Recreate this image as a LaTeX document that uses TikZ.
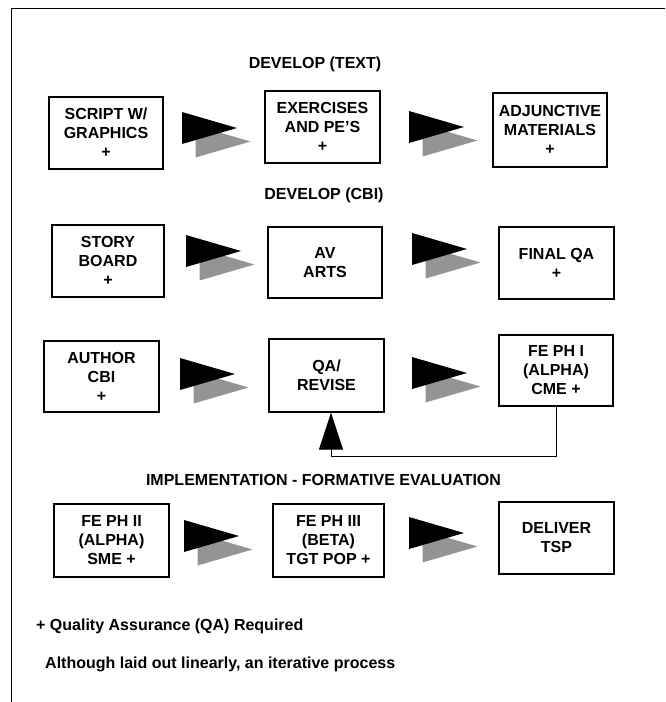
\documentclass[tikz,border=0pt]{standalone}
\usepackage{fontspec}
\setmainfont{Liberation Sans}
\usetikzlibrary{arrows.meta}
\newcommand\flowtri[2]{%
  \fill[black!42] ({#1+13.5},{#2+13.5}) -- ++(55,16) -- ++(-55,16) -- cycle;
  \fill[black] (#1,#2) -- ++(55,16) -- ++(-55,16) -- cycle;
}
\begin{document}
\begin{tikzpicture}[x=1pt,y=-1pt,
  box/.style={draw=black,line width=1.3pt,align=center,inner sep=0pt,
    font=\bfseries\fontsize{16}{19}\selectfont},
  ttl/.style={font=\bfseries\fontsize{16}{19}\selectfont,anchor=base,inner sep=0pt},
  note/.style={font=\bfseries\fontsize{16}{19}\selectfont,anchor=base west,inner sep=0pt},
  fb/.style={line width=1pt,-{Triangle[width=24pt,length=37pt]}}
]
\useasboundingbox (0,0) rectangle (665,702);
\fill[white] (0,0) rectangle (665,702);
% frame (top and left only)
\draw[line width=1pt] (665,8.5) -- (11,8.5) -- (11,702);

% titles
\node[ttl] (t1) at (315,68) {DEVELOP (TEXT)};
\node[ttl] (t2) at (324,199) {DEVELOP (CBI)};
\node[ttl] (t3) at (323.5,485) {IMPLEMENTATION - FORMATIVE EVALUATION};

% row 1
\node[box,minimum width=114pt,minimum height=72pt] (s1) at (106,133) {SCRIPT W/\\GRAPHICS\\+};
\node[box,minimum width=115pt,minimum height=72pt] (s2) at (322.5,127) {EXERCISES\\AND PE'S\\+};
\node[box,minimum width=114pt,minimum height=74pt] (s3) at (550,130) {ADJUNCTIVE\\MATERIALS\\+};
% row 2
\node[box,minimum width=112pt,minimum height=72pt] (c1) at (108,261) {STORY\\BOARD\\+};
\node[box,minimum width=114pt,minimum height=71pt] (c2) at (325,262.5) {AV\\ARTS};
\node[box,minimum width=115pt,minimum height=72pt] (c3) at (556.5,263) {FINAL QA\\+};
% row 3
\node[box,minimum width=115pt,minimum height=71pt] (a1) at (101.5,376.5) {AUTHOR\\CBI\\+};
\node[box,minimum width=115pt,minimum height=73pt] (a2) at (326.5,375.5) {QA/\\REVISE};
\node[box,minimum width=114pt,minimum height=71pt] (a3) at (556,370.5) {FE PH I\\(ALPHA)\\CME +};
% row 4
\node[box,minimum width=115pt,minimum height=73pt] (i1) at (111.5,540.5) {FE PH II\\(ALPHA)\\SME +};
\node[box,minimum width=111pt,minimum height=73pt] (i2) at (328.5,540.5) {FE PH III\\(BETA)\\TGT POP +};
\node[box,minimum width=115pt,minimum height=72pt] (i3) at (556.5,538) {DELIVER\\TSP};

% flow triangles
\flowtri{182}{112}
\flowtri{409}{111}
\flowtri{186}{235}
\flowtri{412}{233}
\flowtri{180}{358}
\flowtri{412}{357}
\flowtri{184}{520}
\flowtri{409}{517}

% feedback loop
\coordinate (fbturn) at (331,456);
\draw[fb] (a3.south) |- (fbturn) -- (fbturn |- a2.south);

% notes
\node[note] (n1) at (36,630) {+ Quality Assurance (QA) Required};
\node[note] (n2) at (45,668) {Although laid out linearly, an iterative process};
\end{tikzpicture}
\end{document}
